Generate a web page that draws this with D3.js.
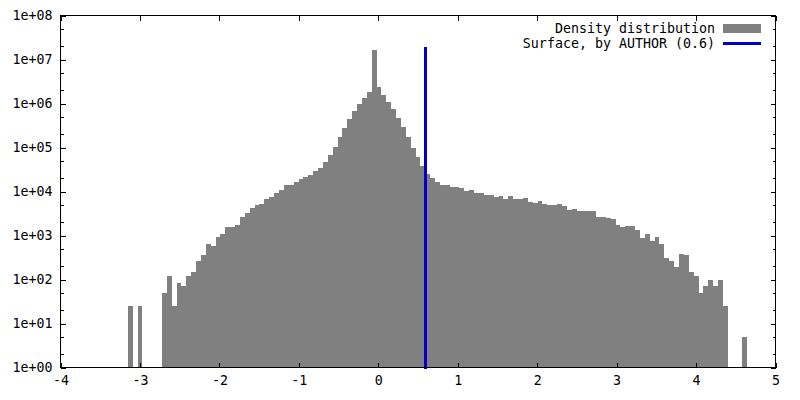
<!DOCTYPE html>
<html><head><meta charset="utf-8">
<script src="https://cdn.jsdelivr.net/npm/d3@7"></script>
<style>
body{margin:0;background:#fff}
svg{display:block;background:#fff}
text{font-family:"DejaVu Sans Mono","Liberation Mono",monospace;font-size:13.3px;fill:#000}
</style>
</head><body>
<svg id="chart" width="800" height="400"></svg>
<script>
(function () {
// ---- data ----
const binStart = -3.153;      // left edge of the first bin
const binWidth = 0.0614;      // histogram bin width
const counts = [
  25, 0, 25, 0, 0, 0, 0,
  50, 120, 25, 83, 71, 120, 147, 262, 359, 639,
  575, 922, 1080, 1557, 1557, 1729, 2630, 3243, 4217, 4931,
  5197, 6750, 7499, 9250, 10820, 14060, 14060, 16450, 19240, 21380,
  23730, 29260, 34230, 46900, 67650, 103000, 173800, 278400, 446300, 678700,
  979000, 1341000, 1836000, 16590000, 2387000, 1570000, 1087000, 753600, 470000, 293600,
  173800, 97700, 60950, 38020, 25030, 20290, 16450, 14060, 14060, 12650,
  12650, 12020, 10260, 10820, 9250, 9250, 8326, 8326, 7499, 7900,
  6750, 7900, 6750, 6750, 7116, 5770, 5475, 6082, 5197, 4931,
  4931, 5197, 4678, 3795, 4000, 3600, 3600, 3600, 3600, 2630,
  2630, 2495, 2367, 1729, 1557, 1641, 1641, 1331, 875, 1080,
  748, 922, 639, 307, 262, 191, 378, 359, 147, 120,
  49, 71, 97, 71, 97, 25,
  0, 0, 0, 5
];
const surfaceX = 0.59;
const surfaceTop = 1.8e7;
const xTickValues = [-4, -3, -2, -1, 0, 1, 2, 3, 4, 5];
const xTickLabels = ["-4", "-3", "-2", "-1", "0", "1", "2", "3", "4", "5"];
const yTickValues = [1, 1e1, 1e2, 1e3, 1e4, 1e5, 1e6, 1e7, 1e8];
const yTickLabels = ["1e+00", "1e+01", "1e+02", "1e+03", "1e+04", "1e+05", "1e+06", "1e+07", "1e+08"];
const yMinorMultipliers = [2, 5];
const legendLabels = ["Density distribution", "Surface, by AUTHOR (0.6)"];
const barColor = "#808080";
const lineColor = "#0000cc";

// ---- layout ----
const pLeft = 60.5, pRight = 775.5, pTop = 15.5, pBottom = 367.5;
const svg = d3.select("#chart");

const x = d3.scaleLinear().domain([-4, 5]).range([pLeft, pRight]);
const y = d3.scaleLog().domain([1, 1e8]).range([pBottom, pTop]);

const bins = counts.map((c, i) => ({
  x0: binStart + i * binWidth,
  x1: binStart + (i + 1) * binWidth,
  c
})).filter(d => d.c > 0);

// bars
svg.append("g").selectAll("rect").data(bins).join("rect")
  .attr("x", d => x(d.x0))
  .attr("width", d => x(d.x1) - x(d.x0))
  .attr("y", d => y(d.c))
  .attr("height", d => y(1) - y(d.c))
  .attr("fill", barColor)
  .attr("shape-rendering", "crispEdges");

// surface line
svg.append("line")
  .attr("x1", x(surfaceX)).attr("x2", x(surfaceX))
  .attr("y1", y(1)).attr("y2", y(surfaceTop))
  .attr("stroke", lineColor).attr("stroke-width", 3)
  .attr("stroke-linecap", "square")
  .attr("shape-rendering", "crispEdges");

// minor y ticks
const minorY = [];
yTickValues.slice(0, -1).forEach(v => yMinorMultipliers.forEach(m => minorY.push(v * m)));

function styleAxis(g) {
  g.select(".domain").remove();
  g.selectAll(".tick line").attr("stroke", "#000").attr("shape-rendering", "crispEdges");
  g.selectAll("text").attr("font-family", null).attr("font-size", null).attr("fill", "#000");
}

// bottom axis
svg.append("g").attr("transform", `translate(0,${pBottom})`)
  .call(d3.axisBottom(x).tickValues(xTickValues)
    .tickFormat((d, i) => xTickLabels[i]).tickSizeInner(-5).tickSizeOuter(0).tickPadding(8))
  .call(styleAxis);
// top axis (ticks only)
svg.append("g").attr("transform", `translate(0,${pTop})`)
  .call(d3.axisTop(x).tickValues(xTickValues).tickFormat("").tickSizeInner(-5).tickSizeOuter(0))
  .call(styleAxis);
// left axis
svg.append("g").attr("transform", `translate(${pLeft},0)`)
  .call(d3.axisLeft(y).tickValues(yTickValues)
    .tickFormat((d, i) => yTickLabels[i]).tickSizeInner(-5).tickSizeOuter(0).tickPadding(8))
  .call(styleAxis);
svg.append("g").attr("transform", `translate(${pLeft},0)`)
  .call(d3.axisLeft(y).tickValues(minorY).tickFormat("").tickSizeInner(-3).tickSizeOuter(0))
  .call(styleAxis);
// right axis
svg.append("g").attr("transform", `translate(${pRight},0)`)
  .call(d3.axisRight(y).tickValues(yTickValues).tickFormat("").tickSizeInner(-5).tickSizeOuter(0))
  .call(styleAxis);
svg.append("g").attr("transform", `translate(${pRight},0)`)
  .call(d3.axisRight(y).tickValues(minorY).tickFormat("").tickSizeInner(-3).tickSizeOuter(0))
  .call(styleAxis);

// frame
svg.append("rect")
  .attr("x", pLeft).attr("y", pTop)
  .attr("width", pRight - pLeft).attr("height", pBottom - pTop)
  .attr("fill", "none").attr("stroke", "#000").attr("stroke-width", 1)
  .attr("shape-rendering", "crispEdges");

// legend
const legend = svg.append("g");
const legTextX = 715, legSampleX0 = 723, legSampleX1 = 761;
const legRow = [33, 48];
legend.append("text").attr("x", legTextX).attr("y", legRow[0])
  .attr("text-anchor", "end").text(legendLabels[0]);
legend.append("rect").attr("x", legSampleX0).attr("y", legRow[0] - 9)
  .attr("width", legSampleX1 - legSampleX0).attr("height", 9)
  .attr("fill", barColor).attr("shape-rendering", "crispEdges");
legend.append("text").attr("x", legTextX).attr("y", legRow[1])
  .attr("text-anchor", "end").text(legendLabels[1]);
legend.append("line").attr("x1", legSampleX0).attr("x2", legSampleX1)
  .attr("y1", legRow[1] - 4.5).attr("y2", legRow[1] - 4.5)
  .attr("stroke", lineColor).attr("stroke-width", 3)
  .attr("shape-rendering", "crispEdges");
})();
</script>
</body></html>
